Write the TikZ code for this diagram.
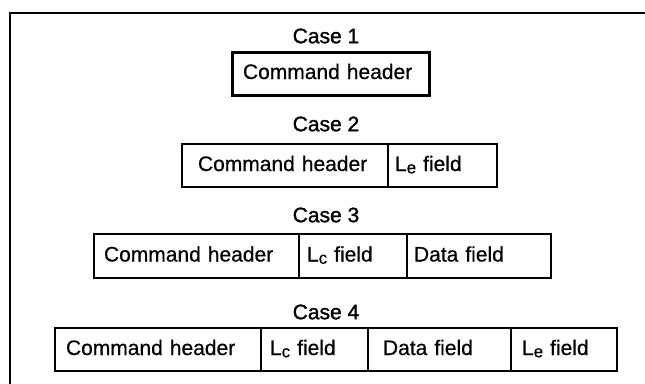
\documentclass[tikz,border=0pt]{standalone}
\usepackage{fontspec}
\setmainfont[FakeBold=0.5]{Liberation Sans}
\newfontfamily\casefont[FakeBold=1.3]{Liberation Sans}
\newcommand\lowsub[1]{\raisebox{-2.3pt}{\fontsize{17}{17}\selectfont #1}}
\tikzset{
  frameline/.style={line width=1.5pt},
  lbl/.style={inner sep=0pt, font=\casefont\fontsize{21}{21}\selectfont},
  fld/.style={draw, line width=2.7pt, anchor=west, inner xsep=0pt, inner ysep=0pt,
    outer sep=0pt, text height=15pt, text depth=4pt, minimum height=43pt,
    align=left, font=\fontsize{21}{21}\selectfont},
}
\begin{document}
\begin{tikzpicture}[x=1pt,y=-1pt]
\useasboundingbox (0,0) rectangle (645,383);
\draw[frameline] (652,13) -- (10,13) -- (10,392);
% Case 1
\node[lbl] (l1) at (326,36) {Case 1};
\node[fld, text width=197pt, line width=3pt] (c1a) at (232,73.5) {\hspace*{11pt}Command header};
% Case 2
\node[lbl] (l2) at (326,124) {Case 2};
\node[fld, text width=206pt] (c2a) at (182,165.5) {\hspace*{16pt}Command header};
\node[fld, text width=109pt] (c2b) at (c2a.east) {\hspace*{7pt}L\lowsub{e} field};
% Case 3
\node[lbl] (l3) at (326,215) {Case 3};
\node[fld, text width=205pt, minimum height=44pt] (c3a) at (94,256) {\hspace*{10pt}Command header};
\node[fld, text width=108pt, minimum height=44pt] (c3b) at (c3a.east) {\hspace*{8pt}L\lowsub{c} field};
\node[fld, text width=144pt, minimum height=44pt] (c3c) at (c3b.east) {\hspace*{7pt}Data field};
% Case 4
\node[lbl] (l4) at (326,312) {Case 4};
\node[fld, text width=206pt] (c4a) at (55,349.5) {\hspace*{11pt}Command header};
\node[fld, text width=107pt] (c4b) at (c4a.east) {\hspace*{9pt}L\lowsub{c} field};
\node[fld, text width=143pt] (c4c) at (c4b.east) {\hspace*{15pt}Data field};
\node[fld, text width=106pt] (c4d) at (c4c.east) {\hspace*{11pt}L\lowsub{e} field};
\end{tikzpicture}
\end{document}
